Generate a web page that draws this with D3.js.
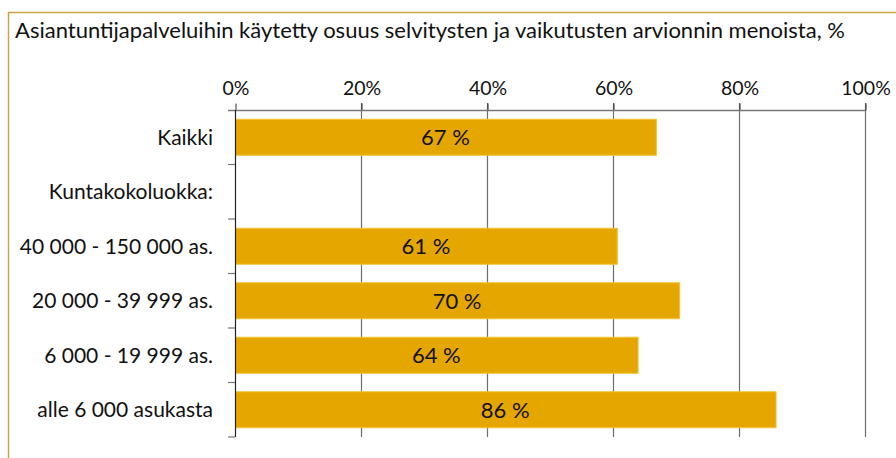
<!DOCTYPE html>
<html>
<head>
<meta charset="utf-8">
<script src="https://cdn.jsdelivr.net/npm/d3@7"></script>
<style>
  body { margin: 0; background: #fff; }
  text { font-family: Lato, "Open Sans", sans-serif; fill: #111; }
</style>
</head>
<body>
<svg id="chart"></svg>
<script>
const categories = ['Kaikki', 'Kuntakokoluokka:', '40 000 - 150 000 as.', '20 000 - 39 999 as.', '6 000 - 19 999 as.', 'alle 6 000 asukasta']
const values = [66.8, null, 60.6, 70.5, 63.9, 85.8]
const valueLabels = ['67 %', '', '61 %', '70 %', '64 %', '86 %']
const ticks = [0, 20, 40, 60, 80, 100]
const title = 'Asiantuntijapalveluihin käytetty osuus selvitysten ja vaikutusten arvionnin menoista, %'

const width = 896, height = 458
const margin = {top: 110, right: 31, bottom: 21, left: 235}

const svg = d3.select('#chart').attr('width', width).attr('height', height)

// frame lines
svg.append('line').attr('x1', 8.5).attr('x2', 8.5).attr('y1', 12).attr('y2', height)
    .attr('stroke', '#c9a44a').attr('stroke-width', 1.5)
svg.append('line').attr('x1', 8).attr('x2', width).attr('y1', 12.5).attr('y2', 12.5)
    .attr('stroke', '#c9a44a').attr('stroke-width', 1.5)

svg.append('text').text(title)
    .attr('x', 15).attr('y', 38)
    .style('font-size', '22px')

const x = d3.scaleLinear().domain([0, 100]).range([margin.left, width - margin.right])
const y = d3.scaleBand().domain(categories)
    .range([margin.top, height - margin.bottom])
    .paddingInner(0.34).paddingOuter(0.17)

// gridlines
svg.append('g').selectAll('line').data(ticks.slice(1)).join('line')
    .attr('x1', d => x(d) + 0.5).attr('x2', d => x(d) + 0.5)
    .attr('y1', margin.top - 7).attr('y2', height - margin.bottom)
    .attr('stroke', '#6e6e6e').attr('stroke-width', 1.2)

// top axis
const xAxis = d3.axisTop(x).tickValues(ticks).tickFormat(d => d + '%').tickSize(7).tickPadding(9)
const xAxisG = svg.append('g').attr('transform', `translate(0.5,${margin.top + 0.5})`).call(xAxis)
xAxisG.select('.domain').remove()
xAxisG.selectAll('.tick line').attr('stroke', '#333')
xAxisG.selectAll('.tick text').style('font-size', '19.5px').attr('fill', '#111')
svg.append('line').attr('x1', margin.left - 7).attr('x2', x(100))
    .attr('y1', margin.top + 0.5).attr('y2', margin.top + 0.5)
    .attr('stroke', '#777').attr('stroke-width', 1.5)

// bars
const withValue = categories.filter((c, i) => values[i] != null)
svg.append('g').selectAll('rect').data(withValue).join('rect')
    .attr('x', x(0) + 0.5)
    .attr('y', d => y(d))
    .attr('width', d => x(values[categories.indexOf(d)]) - x(0))
    .attr('height', y.bandwidth())
    .attr('fill', '#e6a600')
    .attr('stroke', '#f2c030').attr('stroke-width', 1)

svg.append('g').selectAll('text').data(withValue).join('text')
    .text(d => valueLabels[categories.indexOf(d)])
    .attr('x', d => (x(0) + x(values[categories.indexOf(d)])) / 2)
    .attr('y', d => y(d) + y.bandwidth() / 2)
    .attr('dy', '0.36em')
    .attr('text-anchor', 'middle')
    .style('font-size', '22px')

// left axis
const bounds = d3.range(categories.length + 1).map(i => margin.top + i * (height - margin.bottom - margin.top) / categories.length)
svg.append('line').attr('x1', x(0) + 0.5).attr('x2', x(0) + 0.5)
    .attr('y1', margin.top).attr('y2', height - margin.bottom)
    .attr('stroke', '#222').attr('stroke-width', 1.2)
svg.append('g').selectAll('line').data(bounds.slice(1)).join('line')
    .attr('x1', x(0) - 7).attr('x2', x(0))
    .attr('y1', d => d).attr('y2', d => d)
    .attr('stroke', '#777').attr('stroke-width', 1.2)

svg.append('g').selectAll('text').data(categories).join('text')
    .text(d => d)
    .attr('x', x(0) - 22)
    .attr('y', d => y(d) + y.bandwidth() / 2)
    .attr('dy', '0.36em')
    .attr('text-anchor', 'end')
    .style('font-size', '21px')
</script>
</body>
</html>
